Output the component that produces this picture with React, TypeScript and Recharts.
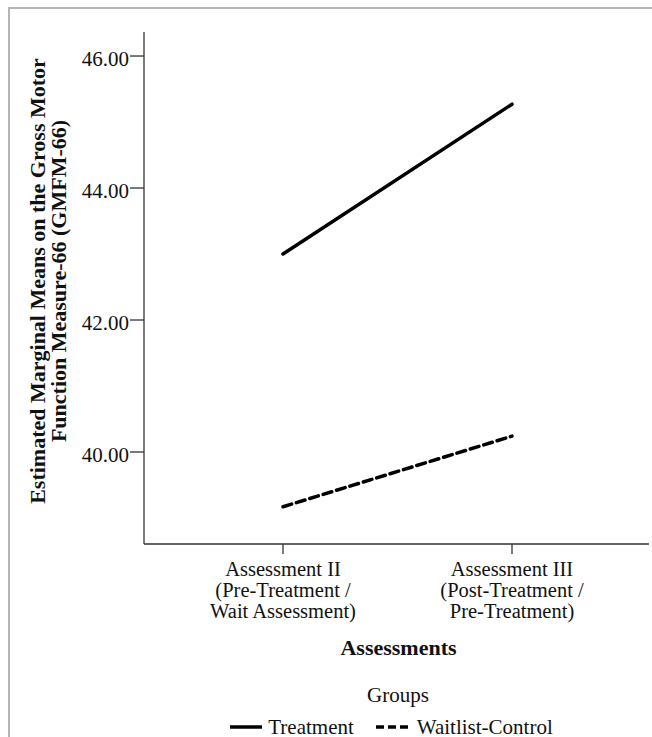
import React from 'react';
import { LineChart, Line, XAxis, YAxis, Legend, Label } from 'recharts';

const assessments = ['Assessment II', 'Assessment III'];
const assessmentLabels = [
  ['Assessment II', '(Pre-Treatment /', 'Wait Assessment)'],
  ['Assessment III', '(Post-Treatment /', 'Pre-Treatment)'],
];
const treatmentMeans = [43.0, 45.27];
const waitlistMeans = [39.17, 40.24];
const yTicks = [40, 42, 44, 46];
const groupNames = ['Treatment', 'Waitlist-Control'];
const groupKeys = ['treatment', 'waitlist'];
const groupDashes = ['', '9 5'];

const data = assessments.map((a, i) => ({
  assessment: a,
  treatment: treatmentMeans[i],
  waitlist: waitlistMeans[i],
}));

const FONT = '"Liberation Serif", "Times New Roman", serif';

const XTick = (props: any) => {
  const { x, y, payload } = props;
  const lines = assessmentLabels[assessments.indexOf(payload.value)] || [payload.value];
  return (
    <text x={x} y={y} textAnchor="middle" fontFamily={FONT} fontSize={20.5} fill="#111">
      {lines.map((l, i) => (
        <tspan key={i} x={x} dy={i === 0 ? 20 : 21}>
          {l}
        </tspan>
      ))}
    </text>
  );
};

const YTick = (props: any) => {
  const { x, y, payload } = props;
  return (
    <text x={x} y={y} dy={10} textAnchor="end" fontFamily={FONT} fontSize={21} fill="#111">
      {Number(payload.value).toFixed(2)}
    </text>
  );
};

const YTitle = (props: any) => {
  const vb = props.viewBox || { x: 0, y: 32, width: 144, height: 512 };
  const cy = vb.y + vb.height / 2 - 7;
  return (
    <g>
      <text
        x={45}
        y={cy}
        transform={`rotate(-90 45 ${cy})`}
        textAnchor="middle"
        fontFamily={FONT}
        fontWeight="bold"
        fontSize={22}
        fill="#111"
      >
        Estimated Marginal Means on the Gross Motor
      </text>
      <text
        x={66}
        y={cy}
        transform={`rotate(-90 66 ${cy})`}
        textAnchor="middle"
        fontFamily={FONT}
        fontWeight="bold"
        fontSize={22}
        fill="#111"
      >
        Function Measure-66 (GMFM-66)
      </text>
    </g>
  );
};

const XTitle = (props: any) => {
  const vb = props.viewBox || { x: 144, y: 544, width: 505, height: 193 };
  return (
    <text
      x={vb.x + vb.width / 2 + 2}
      y={vb.y + 111}
      textAnchor="middle"
      fontFamily={FONT}
      fontWeight="bold"
      fontSize={22}
      fill="#111"
    >
      Assessments
    </text>
  );
};

const LegendBox = () => (
  <div style={{ fontFamily: FONT, fontSize: 21, color: '#111', textAlign: 'center' }}>
    <div style={{ lineHeight: '24px' }}>Groups</div>
    <div
      style={{
        display: 'flex',
        justifyContent: 'center',
        alignItems: 'center',
        marginTop: 8,
        marginRight: 14,
        lineHeight: '24px',
      }}
    >
      {groupNames.map((name, i) => (
        <div key={name} style={{ display: 'flex', alignItems: 'center', marginRight: i === 0 ? 21 : 0 }}>
          <svg width={34} height={10} style={{ marginRight: i === 0 ? 5 : 8 }}>
            <line
              x1={1}
              y1={5}
              x2={33}
              y2={5}
              stroke="#000"
              strokeWidth={3.5}
              strokeDasharray={groupDashes[i] ? '8 4' : undefined}
            />
          </svg>
          <span>{name}</span>
        </div>
      ))}
    </div>
  </div>
);

export default function App() {
  return (
    <div
      style={{
        position: 'absolute',
        left: 0,
        top: 0,
        width: 652,
        height: 737,
        overflow: 'hidden',
        background: '#fff',
      }}
    >
      <div
        style={{
          position: 'absolute',
          left: 8,
          top: 7,
          width: 700,
          height: 800,
          border: '2px solid #b4b4b4',
        }}
      />
      <div style={{ position: 'absolute', left: 0, top: 0 }}>
        <LineChart width={652} height={737} data={data} margin={{ top: 32, right: 3, bottom: 0, left: 0 }}>
          <XAxis
            dataKey="assessment"
            type="category"
            height={193}
            padding={{ left: 139, right: 137 }}
            tickSize={10}
            tickMargin={2}
            tick={<XTick />}
            interval={0}
            stroke="#333"
            strokeWidth={1.3}
            tickLine={{ stroke: '#333', strokeWidth: 1.3 }}
          >
            <Label content={<XTitle />} />
          </XAxis>
          <YAxis
            type="number"
            width={144}
            domain={[38.606, 46.364]}
            ticks={yTicks}
            tickSize={14}
            tickMargin={1}
            tick={<YTick />}
            stroke="#333"
            strokeWidth={1.3}
            tickLine={{ stroke: '#333', strokeWidth: 1.3 }}
            allowDataOverflow
          >
            <Label content={<YTitle />} />
          </YAxis>
          <Legend
            layout="horizontal"
            verticalAlign="middle"
            align="center"
            content={<LegendBox />}
            wrapperStyle={{ top: 683, left: 72, width: 652 }}
          />
          {groupKeys.map((k, i) => (
            <Line
              key={k}
              dataKey={k}
              name={groupNames[i]}
              stroke="#000"
              strokeWidth={3.5}
              strokeLinecap="round"
              strokeDasharray={groupDashes[i] || undefined}
              dot={false}
              activeDot={false}
              isAnimationActive={false}
            />
          ))}
        </LineChart>
      </div>
    </div>
  );
}
